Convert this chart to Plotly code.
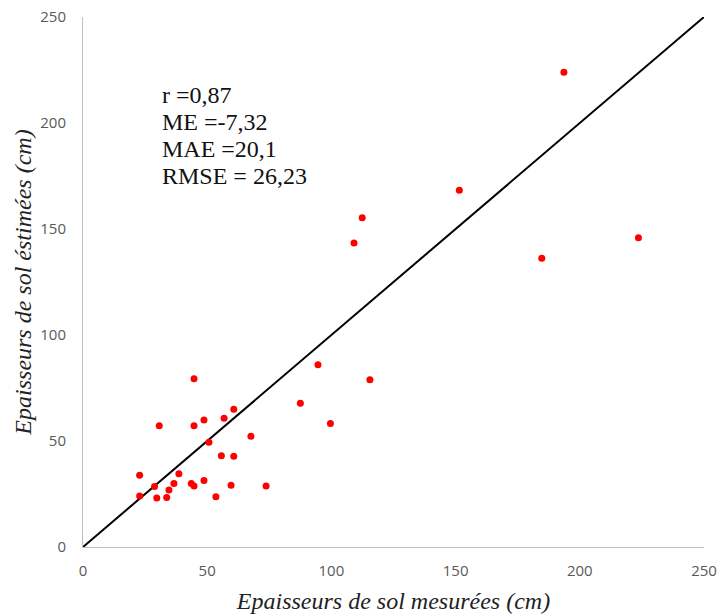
import plotly.graph_objects as go

measured = [44.7, 60.7, 48.7, 56.8, 30.7, 44.7, 50.7, 67.6, 55.7, 60.7, 38.6, 22.8,
            28.8, 36.6, 34.6, 43.6, 44.7, 48.7, 59.6, 73.7, 22.8, 29.7, 33.7, 53.5,
            94.6, 115.5, 87.5, 99.6, 109.1, 112.4, 151.5, 193.6, 223.6, 184.7]
estimated = [79.4, 65.0, 59.9, 60.7, 57.2, 57.2, 49.4, 52.2, 43.1, 42.8, 34.6, 33.8,
             28.5, 29.9, 26.9, 29.9, 28.8, 31.4, 29.1, 28.8, 24.1, 23.1, 23.3, 23.7,
             86.0, 78.9, 67.8, 58.3, 143.4, 155.3, 168.3, 223.9, 145.9, 136.2]
line_x = [0, 250]
line_y = [0, 250]
ticks = [0, 50, 100, 150, 200, 250]
stats = ["r =0,87", "ME =-7,32", "MAE =20,1", "RMSE = 26,23"]

W, H = 719, 614
L, T, R, B = 83, 17, 15, 67
ph = H - T - B
pw = W - L - R

fig = go.Figure()
fig.add_trace(go.Scatter(x=line_x, y=line_y, mode="lines",
                         line=dict(color="black", width=2), hoverinfo="skip"))
fig.add_trace(go.Scatter(x=measured, y=estimated, mode="markers",
                         marker=dict(color="#ff0000", size=7, line=dict(width=0))))

axis_common = dict(range=[0, 250], tickvals=ticks, showgrid=False, zeroline=False,
                   showline=True, linecolor="#bfbfbf", linewidth=1, ticks="",
                   automargin=False, ticklabeloverflow="allow",
                   tickfont=dict(family="Open Sans", size=15, color="#595959"))
fig.update_xaxes(**axis_common, ticklabelstandoff=10,
                 title=dict(text="Epaisseurs de sol mesurées (cm)", standoff=15,
                            font=dict(family="Liberation Serif", size=24, color="#222222",
                                      style="italic")))
fig.update_yaxes(**axis_common, ticklabelstandoff=13,
                 title=dict(text="Epaisseurs de sol éstimées (cm)", standoff=1,
                            font=dict(family="Liberation Serif", size=24, color="#222222",
                                      style="italic")))

line_px = [95, 122, 149, 176]
for txt, ypx in zip(stats, line_px):
    fig.add_annotation(text=txt, xref="paper", yref="paper",
                       x=(160 - L) / pw, y=(H - B - ypx) / ph,
                       xanchor="left", yanchor="middle", showarrow=False,
                       font=dict(family="Liberation Serif", size=24, color="#111111"))

fig.update_layout(width=W, height=H, margin=dict(l=L, r=R, t=T, b=B),
                  plot_bgcolor="white", paper_bgcolor="white", showlegend=False)
fig.write_html("out.html", config={"displayModeBar": False},
               post_script="document.body.style.margin='0';document.body.style.overflow='hidden';")
